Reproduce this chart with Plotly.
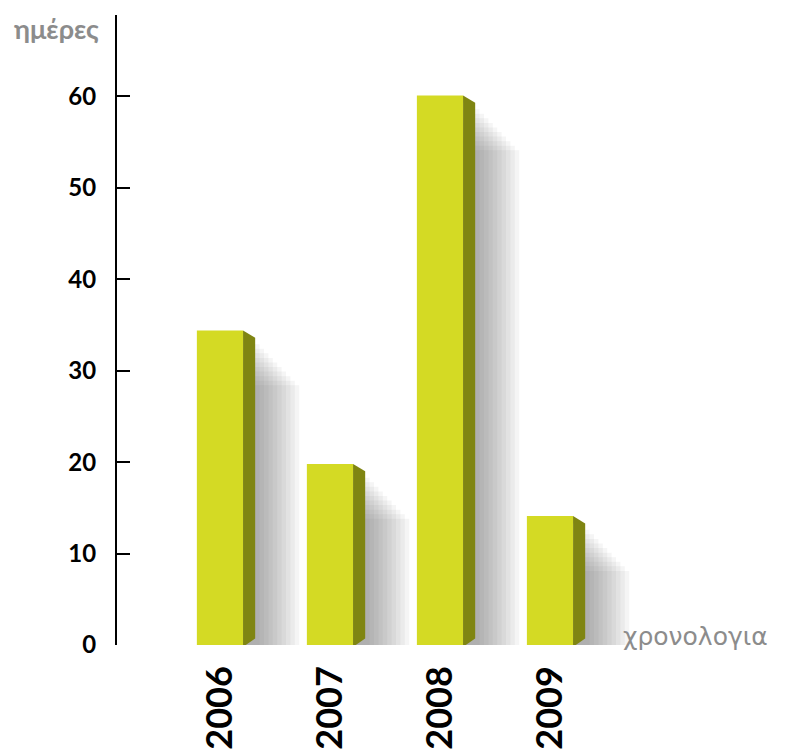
import plotly.graph_objects as go

years = ["2006", "2007", "2008", "2009"]
days = [34.4, 19.8, 60.1, 14.1]
y_ticks = [0, 10, 20, 30, 40, 50, 60]

FRONT = "#d4da24"
SIDE = "#7f8512"
pos = list(range(len(years)))
bw = 0.42
sw = 0.11

fig = go.Figure()

# soft shadow layers
n_layers = 10
for k in range(n_layers):
    ext = 0.04 + k * 0.04
    left = [p for p in pos]
    right = [p + bw / 2 + sw + ext for p in pos]
    fig.add_trace(go.Bar(
        x=[(l + r) / 2 for l, r in zip(left, right)],
        y=[v - 1.0 - k * 0.35 for v in days],
        base=[-0.5 - k * 0.15 for _ in days],
        width=[r - l for l, r in zip(left, right)],
        marker=dict(color="rgba(80,80,88,0.06)", line=dict(width=0)),
        hoverinfo="skip", showlegend=False,
    ))

# side faces
for p, v in zip(pos, days):
    x1 = p + bw / 2
    x2 = x1 + sw
    fig.add_trace(go.Scatter(
        x=[x1, x2, x2, x1, x1],
        y=[-0.2, 0.7, v - 0.8, v, -0.2],
        fill="toself", fillcolor=SIDE, mode="lines",
        line=dict(width=0, color=SIDE),
        hoverinfo="skip", showlegend=False,
    ))

# front faces
fig.add_trace(go.Bar(
    x=pos, y=days, width=bw, base=0,
    marker=dict(color=FRONT, line=dict(width=0)),
    showlegend=False,
))

fig.update_layout(
    width=787, height=756,
    margin=dict(l=109, r=25, t=7, b=119),
    paper_bgcolor="white", plot_bgcolor="white",
    barmode="overlay",
    xaxis=dict(
        range=[-0.936, 5.0], showgrid=False, zeroline=False, showline=False,
        automargin=False,
        tickmode="array", tickvals=pos, ticktext=years, tickangle=-90,
        ticks="", ticklabelstandoff=13,
        tickfont=dict(family="Lato", size=36, color="black", weight="bold"),
    ),
    yaxis=dict(
        range=[0, 68.9], showgrid=False, zeroline=False, automargin=False,
        showline=True, linecolor="black", linewidth=2,
        tickmode="array", tickvals=y_ticks,
        ticks="inside", ticklen=13, tickwidth=2, tickcolor="black",
        ticklabelstandoff=14,
        tickfont=dict(family="Lato", size=24, color="black", weight="bold"),
    ),
    annotations=[
        dict(text="ημέρες", xref="paper", yref="paper", x=-0.025, y=1.008,
             xanchor="right", yanchor="top", showarrow=False,
             font=dict(family="Lato", size=27, color="#8c8c8c", weight="bold")),
        dict(text="χρονολογια", xref="paper", yref="y", x=1.0, y=0.9,
             xanchor="right", yanchor="middle", showarrow=False,
             font=dict(family="DejaVu Sans", size=25, color="#8c8c8c")),
    ],
)

fig.write_html("out.html")
